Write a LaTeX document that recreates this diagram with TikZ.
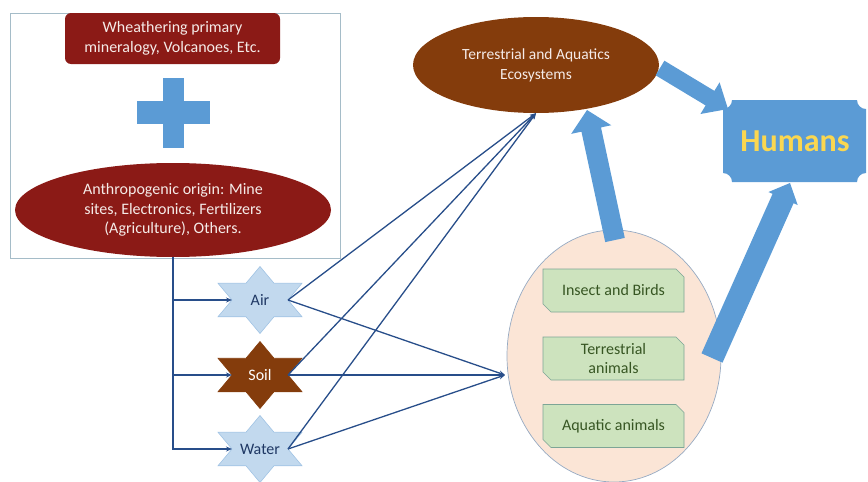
\documentclass[tikz,border=0pt]{standalone}
\usepackage{fontspec}
\setmainfont{Carlito}
\usetikzlibrary{calc,arrows.meta,shapes.geometric}
\definecolor{darkred}{RGB}{139,26,22}
\definecolor{brownE}{RGB}{132,60,12}
\definecolor{blockblue}{RGB}{91,155,213}
\definecolor{starblue}{RGB}{194,217,238}
\definecolor{starborder}{RGB}{160,195,228}
\definecolor{peach}{RGB}{251,229,214}
\definecolor{peachborder}{RGB}{150,170,195}
\definecolor{greenF}{RGB}{205,227,190}
\definecolor{greenB}{RGB}{125,165,150}
\definecolor{greenT}{RGB}{55,86,35}
\definecolor{lineblue}{RGB}{40,78,138}
\definecolor{humyellow}{RGB}{250,215,80}
\definecolor{boxgray}{RGB}{165,188,200}
\definecolor{startext}{RGB}{31,56,100}
\definecolor{lighttext}{RGB}{245,235,232}
\newcommand\blockarrow[5]{%
  \coordinate (ba) at (#1); \coordinate (bb) at (#2);
  \coordinate (bh) at ($(bb)!#5!(ba)$);
  \fill[blockblue] ($(ba)!#3!90:(bb)$) -- ($(bh)!#3!-90:(ba)$) -- ($(bh)!#4!-90:(ba)$)
    -- (bb) -- ($(bh)!#4!90:(ba)$) -- ($(bh)!#3!90:(ba)$) -- ($(ba)!#3!-90:(bb)$) -- cycle;}
\newcommand\hexstar[6]{% name, cx, cy, fill, border, text colour + text
  \draw[fill=#4, draw=#5, line width=0.6pt] ($(#2,#3)+(0,-33.5)$) -- ++(14,16.75) -- ++(28,0) -- ++(-14,16.75)
    -- ++(14,16.75) -- ++(-28,0) -- ++(-14,16.75) -- ++(-14,-16.75) -- ++(-28,0) -- ++(14,-16.75)
    -- ++(-14,-16.75) -- ++(28,0) -- cycle;
  \node[txt, text=#6] (#1) at (#2,#3) {\csname startxt#1\endcsname};
  \coordinate (#1W) at ($(#2,#3)+(-28,0)$);
  \coordinate (#1E) at ($(#2,#3)+(28,0)$);}
\newcommand\startxtair{Air}
\newcommand\startxtsoil{Soil}
\newcommand\startxtwater{Water}
\newcommand\snipbox[4]{% name, cx, cy, text
  \draw[fill=greenF, draw=greenB, line width=0.7pt] ($(#2,#3)+(-70.5,-21.5)$) -- ($(#2,#3)+(62.5,-21.5)$)
    -- ($(#2,#3)+(70.5,-13.5)$) -- ($(#2,#3)+(70.5,21.5)$) -- ($(#2,#3)+(-62.5,21.5)$)
    -- ($(#2,#3)+(-70.5,13.5)$) -- cycle;
  \node[txt, text=greenT] (#1) at (#2,#3) {#4};}
\begin{document}
\begin{tikzpicture}[x=1pt,y=-1pt,
  txt/.style={font=\fontsize{16}{19.5}\selectfont, align=center, inner sep=0pt},
  conn/.style={draw=lineblue, line width=1.3pt, -{Stealth[length=6pt,width=5pt]}}]
\useasboundingbox (0,0) rectangle (868,482);
% source box
\node[draw=boxgray, line width=0.8pt, minimum width=330pt, minimum height=245pt, anchor=north west, inner sep=0pt] (srcbox) at (10,13) {};
\node[txt, fill=darkred, rounded corners=6pt, minimum width=215pt, minimum height=51pt, text=lighttext] (weath) at (172.5,38.5) {Wheathering primary\\mineralogy, Volcanoes, Etc.};
\fill[blockblue] (163,78) rectangle (184,148);
\fill[blockblue] (137,101) rectangle (210,124);
\node[txt, ellipse, fill=darkred, minimum width=316pt, minimum height=94pt, text=lighttext] (anthro) at (173,210) {Anthropogenic origin: Mine\\sites, Electronics, Fertilizers\\(Agriculture), Others.};
% ecosystems
\node[txt, ellipse, fill=brownE, minimum width=246pt, minimum height=96pt, text=lighttext, font=\fontsize{15.5}{20}\selectfont] (eco) at (536,65) {Terrestrial and Aquatics\\Ecosystems};
% animals
\node[ellipse, fill=peach, draw=peachborder, line width=0.7pt, minimum width=214pt, minimum height=252pt] (anim) at (614,356) {};
\coordinate (aniW) at (505,375);
\snipbox{insect}{613.5}{290.5}{Insect and Birds}
\snipbox{terr}{613.5}{358.5}{Terrestrial\\animals}
\snipbox{aquatic}{613.5}{426}{Aquatic animals}
% humans
\fill[blockblue] (732,100) -- (857,100) .. controls (857,105) and (861,109) .. (866,109) -- (866,173)
  .. controls (861,173) and (857,177) .. (857,182) -- (732,182) .. controls (732,177) and (728,173) .. (723,173)
  -- (723,109) .. controls (728,109) and (732,105) .. (732,100) -- cycle;
\node[font=\fontsize{32}{38}\selectfont\bfseries, text=humyellow, inner sep=0pt] (humans) at (795,141) {Humans};
% block arrows
\blockarrow{660,68}{728,109}{8.5pt}{18.5pt}{21pt}
\blockarrow{615,240}{587,110}{10pt}{20.5pt}{20pt}
\blockarrow{712,358}{790,183}{11.5pt}{16pt}{17pt}
% stars
\hexstar{air}{260}{300}{starblue}{starborder}{startext}
\hexstar{soil}{260}{375}{brownE}{brownE}{white}
\hexstar{water}{260}{449}{starblue}{starborder}{startext}
% connectors
\draw[conn] (anthro.south) |- (airW);
\draw[conn] (anthro.south) |- (soilW);
\draw[conn] (anthro.south) |- (waterW);
\foreach \s in {air,soil,water}{
  \draw[conn] (\s E) -- (eco.south);
  \draw[conn] (\s E) -- (aniW);
}
\end{tikzpicture}
\end{document}
